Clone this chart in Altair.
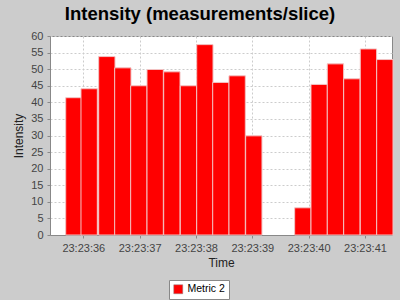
import altair as alt
import pandas as pd

chart_title = "Intensity (measurements/slice)"
x_title = "Time"
y_title = "Intensity"
series_name = "Metric 2"
time_prefix = "23:23:"
# slice start times (seconds within 23:23)
slice_start_sec = [35.688, 35.959, 36.273, 36.557, 36.841, 37.131, 37.427, 37.722,
                   38.013, 38.297, 38.586, 38.882, 39.752, 40.042, 40.331, 40.622,
                   40.917, 41.208]
values = [41.4, 44.1, 53.8, 50.4, 45.0, 49.9, 49.2, 45.0, 57.4, 46.0, 48.0, 29.9,
          8.2, 45.4, 51.6, 47.1, 56.1, 52.9]
slice_sec = 0.29
x_ticks = [36, 37, 38, 39, 40, 41]
y_ticks = list(range(0, 61, 5))
FONT = "Liberation Sans"

df = pd.DataFrame({
    "start": slice_start_sec,
    "end": [s + slice_sec for s in slice_start_sec],
    "value": values,
    "series": [series_name] * len(values),
})

chart = alt.Chart(df).mark_bar(stroke="#f2c4c4", strokeWidth=1).encode(
    x=alt.X("start:Q", title=x_title,
            scale=alt.Scale(domain=[35.409, 41.48], nice=False, zero=False),
            axis=alt.Axis(values=x_ticks,
                          labelExpr=f"'{time_prefix}' + datum.value",
                          labelFlush=False, labelOverlap=False, labelPadding=4)),
    x2="end:Q",
    y=alt.Y("value:Q", title=y_title,
            scale=alt.Scale(domain=[0, 60], nice=False),
            axis=alt.Axis(values=y_ticks, labelPadding=4)),
    y2=alt.datum(0),
    color=alt.Color("series:N", scale=alt.Scale(range=["#ff0000"]),
                    legend=alt.Legend(title=None, orient="none", legendX=119, legendY=244,
                                      fillColor="white", strokeColor="#888888",
                                      padding=4, symbolType="square", symbolSize=81,
                                      symbolStrokeColor="#888888", symbolStrokeWidth=0.5,
                                      labelFont=FONT, labelFontSize=10.5, labelColor="black",
                                      labelOffset=4)),
).properties(
    width=342,
    height=199,
    autosize=alt.AutoSizeParams(type="none"),
    padding={"left": 50, "top": 36, "right": 8, "bottom": 65},
    background="#cccccc",
    title=alt.Title(chart_title, font=FONT, fontSize=18.5, fontWeight="bold",
                    color="black", anchor="middle", dx=-21, dy=19, offset=11,
                    baseline="alphabetic"),
).configure_view(
    stroke="#888888", fill="white"
).configure_axis(
    labelFont=FONT, labelFontSize=11, labelColor="#444444",
    titleFont=FONT, titleFontSize=12, titleFontWeight="normal", titleColor="#222222",
    domainColor="#888888", tickColor="#888888", tickSize=3,
    gridColor="#cccccc", gridDash=[2, 2], gridWidth=1,
).configure_axisY(
    titlePadding=5
).configure_axisX(
    titlePadding=4
)

chart.save("out.html", embed_options={"renderer": "svg", "actions": False})
